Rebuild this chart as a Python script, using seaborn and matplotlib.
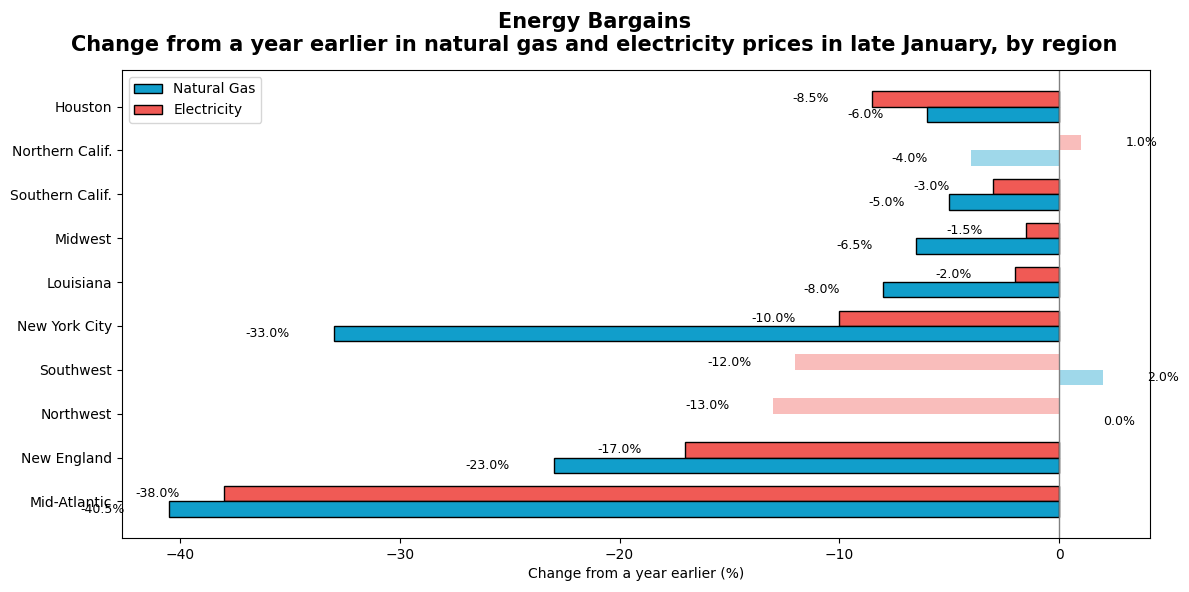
import matplotlib
matplotlib.use("Agg")
import matplotlib.pyplot as plt
from matplotlib.patches import Patch
import seaborn as sns
import pandas as pd

regions = ["Houston", "Northern Calif.", "Southern Calif.", "Midwest", "Louisiana",
           "New York City", "Southwest", "Northwest", "New England", "Mid-Atlantic"]
natural_gas = [-6.0, -4.0, -5.0, -6.5, -8.0, -33.0, 2.0, 0.0, -23.0, -40.5]
electricity = [-8.5, 1.0, -3.0, -1.5, -2.0, -10.0, -12.0, -13.0, -17.0, -38.0]
faded_regions = ["Northern Calif.", "Southwest", "Northwest"]

series_names = ["Natural Gas", "Electricity"]
colors = {"Natural Gas": "#119ECB", "Electricity": "#F05A55"}

df = pd.concat([
    pd.DataFrame({"region": regions, "value": natural_gas, "series": "Natural Gas"}),
    pd.DataFrame({"region": regions, "value": electricity, "series": "Electricity"}),
])

sns.set_theme(style="ticks", rc={
    "text.color": "black", "axes.labelcolor": "black",
    "xtick.color": "black", "ytick.color": "black",
    "axes.edgecolor": "black", "axes.linewidth": 0.8,
    "xtick.major.size": 3.5, "ytick.major.size": 3.5,
    "xtick.major.width": 0.8, "ytick.major.width": 0.8,
})
fig, ax = plt.subplots(figsize=(11.89, 5.92), dpi=100)
fig.subplots_adjust(left=0.1026, right=0.9672, top=0.8818, bottom=0.0912)

hue_order = ["Electricity", "Natural Gas"]
bar_width = 0.7
sns.barplot(data=df, y="region", x="value", hue="series", order=regions,
            hue_order=hue_order, palette=colors, orient="h", width=bar_width,
            edgecolor="black", linewidth=1, saturation=1, ax=ax, legend=False,
            errorbar=None)

for cont, name in zip(ax.containers, hue_order):
    vals = natural_gas if name == "Natural Gas" else electricity
    for bar, reg, v in zip(cont, regions, vals):
        if reg in faded_regions:
            bar.set_alpha(0.4)
            bar.set_edgecolor("none")
            bar.set_linewidth(0)
        yc = bar.get_y() + bar.get_height() / 2
        if v >= 0:
            ax.text(v + 2, yc, f"{v:.1f}%", ha="left", va="center", fontsize=9)
        else:
            ax.text(v - 2, yc, f"{v:.1f}%", ha="right", va="center", fontsize=9)

ax.axvline(0, color="gray", linewidth=1)
for s in ["top", "right"]:
    ax.spines[s].set_visible(True)

# default-like 5% margins around the bar extents
lo, hi = -bar_width / 2, len(regions) - 1 + bar_width / 2
pad = 0.05 * (hi - lo)
ax.set_ylim(hi + pad, lo - pad)

handles = [Patch(facecolor=colors[n], edgecolor="black", label=n) for n in series_names]
ax.legend(handles=handles, loc="upper left", fontsize=10)

ax.set_ylabel("")
ax.set_xlabel("Change from a year earlier (%)", fontsize=10)
fig.suptitle("Energy Bargains\nChange from a year earlier in natural gas and electricity prices in late January, by region",
             fontsize=15, fontweight="bold", y=0.98)
ax.tick_params(labelsize=10)

fig.savefig("out.png", dpi=100)
